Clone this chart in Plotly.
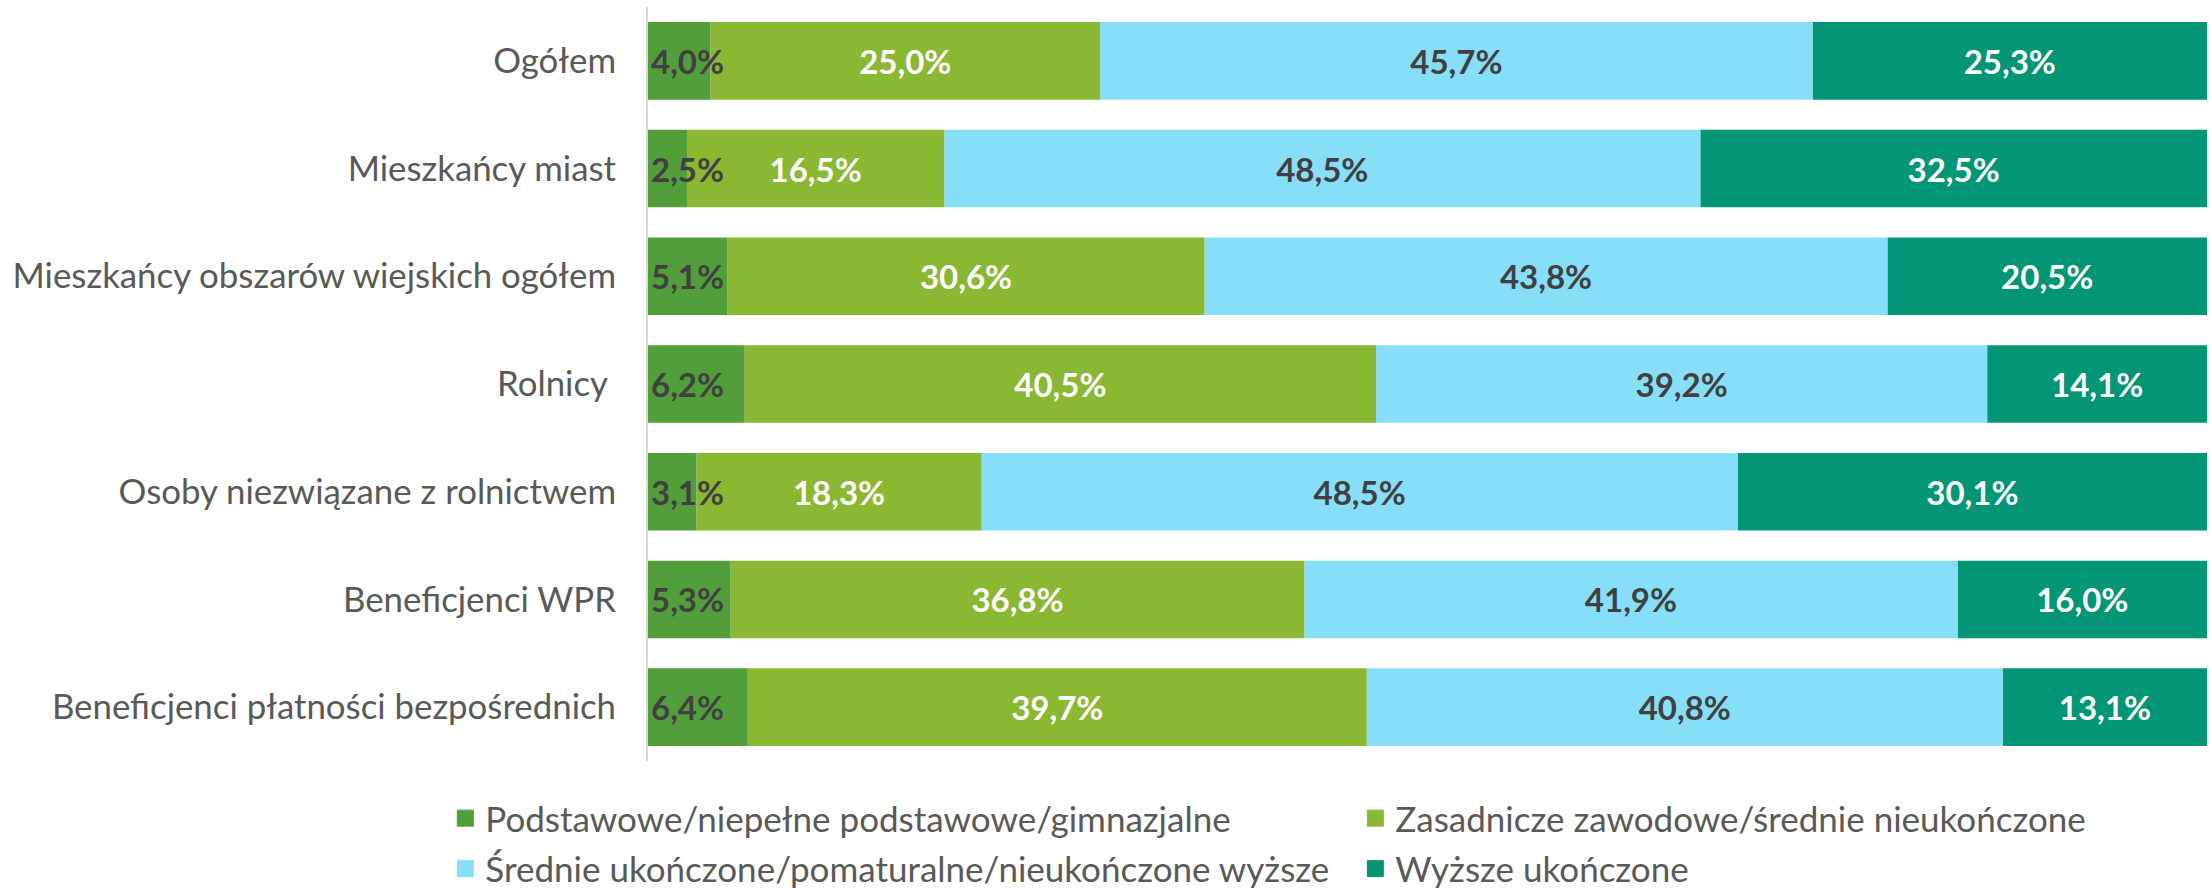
import plotly.graph_objects as go

categories = [
    "Ogółem",
    "Mieszkańcy miast",
    "Mieszkańcy obszarów wiejskich ogółem",
    "Rolnicy\u00a0",
    "Osoby niezwiązane z rolnictwem",
    "Beneficjenci WPR",
    "Beneficjenci płatności bezpośrednich",
]

series_names = [
    "Podstawowe/niepełne podstawowe/gimnazjalne",
    "Zasadnicze zawodowe/średnie nieukończone",
    "Średnie ukończone/pomaturalne/nieukończone wyższe",
    "Wyższe ukończone",
]

podstawowe = [4.0, 2.5, 5.1, 6.2, 3.1, 5.3, 6.4]
zasadnicze = [25.0, 16.5, 30.6, 40.5, 18.3, 36.8, 39.7]
srednie = [45.7, 48.5, 43.8, 39.2, 48.5, 41.9, 40.8]
wyzsze = [25.3, 32.5, 20.5, 14.1, 30.1, 16.0, 13.1]

values = [podstawowe, zasadnicze, srednie, wyzsze]
colors = ["#529E3A", "#8AB833", "#87DEF9", "#029676"]
label_colors = ["#404040", "#FFFFFF", "#404040", "#FFFFFF"]
anchors = ["start", "middle", "middle", "middle"]
legend_ids = ["legend", "legend", "legend2", "legend2"]

FONT = "Lato"

# cumulative bases so each segment starts where the previous ends
bases = []
running = [0.0] * len(categories)
for vals in values:
    bases.append(list(running))
    running = [r + v for r, v in zip(running, vals)]

fig = go.Figure()
# draw last segment first so labels of earlier (left) segments stay on top
for i in reversed(range(len(values))):
    fig.add_trace(go.Bar(
        y=categories,
        x=values[i],
        base=bases[i],
        name=series_names[i],
        orientation="h",
        marker=dict(color=colors[i], line=dict(width=0)),
        texttemplate="%{x:.1f}%",
        textposition="inside",
        insidetextanchor=anchors[i],
        constraintext="none",
        textangle=0,
        textfont=dict(family=FONT, size=33, color=label_colors[i], weight="bold"),
        cliponaxis=False,
        hoverinfo="skip",
        showlegend=False,
    ))

# legend entries (square swatches)
for i in range(len(values)):
    fig.add_trace(go.Scatter(
        x=[None], y=[None],
        mode="markers",
        name=series_names[i],
        marker=dict(symbol="square", size=16, color=colors[i],
                    line=dict(width=1, color=colors[i])),
        legend=legend_ids[i],
        showlegend=True,
        hoverinfo="skip",
    ))

legend_common = dict(
    orientation="h",
    x=-0.13,
    xanchor="left",
    yanchor="top",
    entrywidth=865,
    entrywidthmode="pixels",
    font=dict(family=FONT, size=35, color="#595959"),
    traceorder="normal",
    itemclick=False,
    itemdoubleclick=False,
    itemsizing="trace",
    bgcolor="rgba(0,0,0,0)",
)

fig.update_layout(
    width=2209,
    height=893,
    barmode="overlay",
    bargap=0.28,
    separators=", ",
    paper_bgcolor="white",
    plot_bgcolor="white",
    margin=dict(l=648, r=2, t=7, b=132, autoexpand=False),
    font=dict(family=FONT, color="#595959", size=35),
    xaxis=dict(
        range=[0, 100],
        showgrid=False,
        showticklabels=False,
        zeroline=False,
        showline=False,
        ticks="",
    ),
    yaxis=dict(
        autorange="reversed",
        showline=True,
        linecolor="#D9D9D9",
        linewidth=2,
        showgrid=False,
        ticks="outside",
        ticklen=23,
        tickcolor="rgba(0,0,0,0)",
        tickfont=dict(family=FONT, size=34.8, color="#595959"),
    ),
    legend=dict(legend_common, y=-0.037),
    legend2=dict(legend_common, y=-0.104),
    showlegend=True,
)

fig.write_html(
    "out.html",
    config={"displayModeBar": False},
    post_script="document.body.style.margin='0';",
)
